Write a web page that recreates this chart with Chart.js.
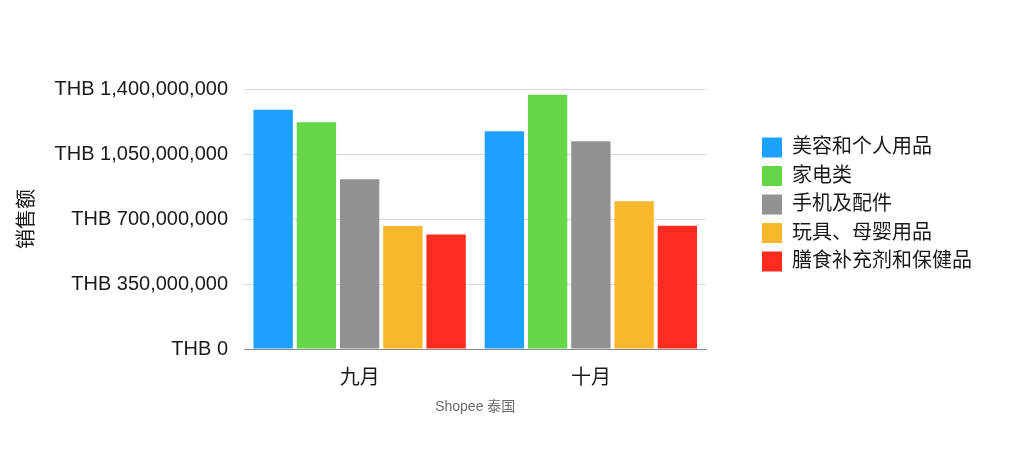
<!DOCTYPE html>
<html lang="zh">
<head>
  <meta charset="UTF-8">
  <title>Shopee 泰国 销售额</title>
  <script src="https://cdn.jsdelivr.net/npm/chart.js"></script>
  <style>
    html, body { margin: 0; padding: 0; background: #fff; }
  </style>
</head>
<body>
  <canvas id="sales-chart" width="1024" height="453"></canvas>

  <script>
    // Data
    const months = ["九月", "十月"];
    const categories = ["美容和个人用品", "家电类", "手机及配件", "玩具、母婴用品", "膳食补充剂和保健品"];
    const beautySales = [1288000000, 1172000000];
    const applianceSales = [1221000000, 1369000000];
    const phoneSales = [914000000, 1118000000];
    const toySales = [662000000, 795000000];
    const supplementSales = [617000000, 664000000];
    const yTicks = [0, 350000000, 700000000, 1050000000, 1400000000];

    const colors = ["#1ea1fe", "#64d647", "#929292", "#f7b82e", "#fe2c20"];
    const seriesValues = [beautySales, applianceSales, phoneSales, toySales, supplementSales];
    const FONT = '"Liberation Sans", "Noto Sans CJK SC", sans-serif';

    new Chart(document.getElementById("sales-chart"), {
      type: "bar",
      data: {
        labels: months,
        datasets: categories.map((name, i) => ({
          label: name,
          data: seriesValues[i],
          backgroundColor: colors[i],
          borderWidth: 0,
          categoryPercentage: 0.935,
          barPercentage: 0.91
        }))
      },
      options: {
        responsive: false,
        animation: false,
        devicePixelRatio: 1,
        layout: { padding: { left: 12, top: 89, right: 42, bottom: 34 } },
        scales: {
          x: {
            grid: { display: false, drawTicks: false },
            border: { color: "#8a8a8a", width: 1 },
            ticks: { color: "#1a1a1a", font: { family: FONT, size: 20 }, padding: 17 },
            title: {
              display: true, text: "Shopee 泰国", color: "#6b6b6b",
              font: { family: FONT, size: 14 }, padding: { top: 0, bottom: 3 }
            },
            afterFit: (s) => { s.height = 70; }
          },
          y: {
            min: 0,
            max: 1400000000,
            afterBuildTicks: (s) => { s.ticks = yTicks.map(v => ({ value: v })); },
            grid: { color: "#d9d9d9", drawTicks: false },
            border: { display: false },
            ticks: {
              color: "#1a1a1a", font: { family: FONT, size: 20 }, padding: 16,
              callback: (v) => "THB " + Number(v).toLocaleString("en-US")
            },
            title: {
              display: true, text: "销售额", color: "#1a1a1a",
              font: { family: FONT, size: 20 }, padding: { top: 3, bottom: 0 }
            },
            afterFit: (s) => { s.width = 232; }
          },
          spacer: {
            type: "linear",
            position: "right",
            display: true,
            grid: { display: false, drawTicks: false },
            border: { display: false },
            ticks: { display: false },
            afterFit: (s) => { s.width = 47; }
          }
        },
        plugins: {
          tooltip: { enabled: false },
          legend: {
            position: "right",
            align: "start",
            fullSize: false,
            maxWidth: 240,
            title: { display: true, text: "", font: { family: FONT, size: 20 }, padding: 8 },
            labels: {
              color: "#1a1a1a",
              font: { family: FONT, size: 20 },
              boxWidth: 20,
              boxHeight: 20,
              padding: 8.5
            }
          }
        }
      }
    });
  </script>
</body>
</html>
